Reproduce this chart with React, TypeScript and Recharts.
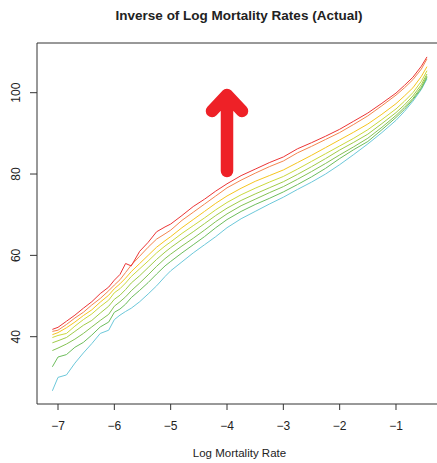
import React from 'react'
import { LineChart, Line, XAxis, YAxis, ReferenceArea } from 'recharts'

// log mortality rate grid (x) and the age (y)
const logRates = [-7.1, -7.0, -6.85, -6.7, -6.55, -6.4, -6.25, -6.1, -6.0, -5.9, -5.8, -5.7, -5.55, -5.4, -5.25, -5.1, -5.0, -4.8, -4.6, -4.4, -4.2, -4.0, -3.75, -3.5, -3.25, -3.0, -2.75, -2.5, -2.25, -2.0, -1.75, -1.5, -1.25, -1.0, -0.85, -0.7, -0.55, -0.45]

const red = [41.8, 42.3, 43.8, 45.3, 47.0, 48.6, 50.6, 52.2, 53.9, 55.3, 58.0, 57.4, 61.0, 63.2, 65.8, 67.0, 67.7, 69.8, 72.0, 73.8, 75.8, 77.6, 79.6, 81.2, 82.8, 84.2, 86.2, 87.7, 89.3, 91.0, 93.0, 95.0, 97.4, 99.9, 101.8, 103.8, 106.5, 108.8]
const orange = [41.3, 41.6, 43.0, 44.6, 46.0, 47.8, 49.4, 51.3, 52.7, 54.0, 55.8, 57.6, 59.8, 62.0, 64.0, 65.3, 66.2, 68.6, 70.6, 72.6, 74.6, 76.6, 78.5, 80.2, 81.8, 83.2, 85.2, 86.8, 88.5, 90.2, 92.2, 94.3, 96.8, 99.4, 101.2, 103.2, 105.8, 108.3]
const gold = [40.5, 41.0, 42.2, 43.6, 45.2, 46.6, 48.5, 50.2, 51.8, 53.0, 54.4, 56.0, 58.0, 60.0, 62.0, 63.6, 64.6, 66.8, 68.8, 70.8, 72.8, 74.6, 76.5, 78.2, 79.6, 81.0, 82.8, 84.6, 86.5, 88.4, 90.3, 92.3, 94.7, 97.3, 99.2, 101.2, 104.0, 106.4]
const lime = [39.8, 40.3, 40.8, 42.6, 44.2, 45.6, 47.4, 49.0, 50.8, 51.8, 53.2, 54.8, 56.7, 58.6, 60.6, 62.3, 63.3, 65.4, 67.3, 69.2, 71.2, 73.0, 74.9, 76.5, 78.0, 79.4, 81.2, 83.1, 85.0, 86.9, 88.8, 90.9, 93.4, 96.0, 97.9, 100.0, 102.8, 105.4]
const green1 = [38.5, 39.0, 39.8, 41.3, 42.8, 44.0, 45.8, 47.5, 49.2, 50.2, 51.6, 53.2, 55.0, 57.0, 59.0, 60.8, 61.9, 63.9, 65.8, 67.8, 69.8, 71.6, 73.5, 75.1, 76.6, 78.1, 79.9, 81.8, 83.8, 85.9, 87.8, 89.8, 92.4, 95.1, 97.0, 99.2, 102.0, 104.6]
const green2 = [36.6, 37.2, 38.2, 39.4, 40.8, 42.4, 44.0, 45.5, 47.5, 48.6, 49.8, 51.3, 53.2, 55.2, 57.3, 59.2, 60.3, 62.3, 64.2, 66.2, 68.3, 70.2, 72.2, 73.8, 75.4, 76.9, 78.7, 80.6, 82.6, 84.7, 86.7, 88.8, 91.5, 94.4, 96.4, 98.6, 101.4, 104.1]
const green3 = [32.6, 35.0, 35.6, 37.4, 38.6, 40.4, 42.4, 43.6, 46.0, 46.8, 48.0, 49.6, 51.4, 53.3, 55.4, 57.4, 58.5, 60.6, 62.6, 64.6, 66.8, 68.8, 70.8, 72.5, 74.0, 75.6, 77.4, 79.3, 81.4, 83.8, 86.0, 88.0, 90.9, 93.9, 95.9, 98.3, 101.0, 103.8]
const cyan = [26.7, 30.0, 30.6, 33.5, 36.0, 38.3, 40.8, 41.6, 44.2, 45.3, 46.2, 47.0, 48.6, 50.5, 52.5, 54.8, 56.2, 58.4, 60.6, 62.6, 64.6, 66.8, 69.0, 70.8, 72.6, 74.3, 76.2, 78.0, 80.0, 82.3, 84.8, 87.4, 90.2, 93.2, 95.4, 97.9, 100.8, 103.4]

const xTicks = [-7, -6, -5, -4, -3, -2, -1]
const yTicks = [40, 60, 80, 100]

const series = [
  { key: 'cyan', color: '#6cc8da', values: cyan },
  { key: 'green3', color: '#6dbd5c', values: green3 },
  { key: 'green2', color: '#84c253', values: green2 },
  { key: 'green1', color: '#a0cc48', values: green1 },
  { key: 'lime', color: '#cbd93c', values: lime },
  { key: 'gold', color: '#f6c51f', values: gold },
  { key: 'orange', color: '#f4854f', values: orange },
  { key: 'red', color: '#ec3535', values: red },
]

const data = logRates.map((x, i) => {
  const row: Record<string, number> = { x }
  series.forEach(s => { row[s.key] = s.values[i] })
  return row
})

// plot box runs past the right edge of the window, like the original
const X_DOMAIN: [number, number] = [-7.373, -0.13]
const Y_DOMAIN: [number, number] = [23.45, 112.22]
const FONT = '"Liberation Sans", Arial, Helvetica, sans-serif'

const YTick = ({ y, payload }: any) => (
  <text x={20.5} y={y} transform={`rotate(-90, 20.5, ${y})`} textAnchor="middle"
    fontSize={12} fill="#222" fontFamily={FONT}>{payload.value}</text>
)

export default function App() {
  return (
    <div style={{ position: 'absolute', left: 0, top: 0, width: 437, height: 463, overflow: 'hidden', background: '#fff' }}>
      <LineChart width={450} height={463} data={data} margin={{ top: 43, right: 5, bottom: 0, left: 0 }}>
        <XAxis type="number" dataKey="x" domain={X_DOMAIN} allowDataOverflow ticks={xTicks}
          height={59} axisLine={false} tickSize={6} tickMargin={11}
          tickLine={{ stroke: '#333' }}
          tick={{ fontSize: 12, fill: '#222', fontFamily: FONT }}
          tickFormatter={(v: number) => String(v).replace('-', '\u2212')} />
        <YAxis type="number" domain={Y_DOMAIN} allowDataOverflow ticks={yTicks}
          width={37} axisLine={false} tickSize={7} tickLine={{ stroke: '#333' }} tick={<YTick />} />
        <ReferenceArea x1={X_DOMAIN[0]} x2={X_DOMAIN[1]} y1={Y_DOMAIN[0]} y2={Y_DOMAIN[1]}
          fill="none" fillOpacity={0} stroke="#333" strokeOpacity={1} ifOverflow="visible" />
        {series.map(s => (
          <Line key={s.key} type="linear" dataKey={s.key} stroke={s.color} strokeWidth={1}
            dot={false} activeDot={false} isAnimationActive={false} />
        ))}
      </LineChart>
      <svg width={437} height={463} style={{ position: 'absolute', left: 0, top: 0, pointerEvents: 'none' }}>
        <text x={239} y={19.5} textAnchor="middle" fontSize={13.5} fontWeight="bold" fill="#222" fontFamily={FONT}>
          Inverse of Log Mortality Rates (Actual)
        </text>
        <text x={239.5} y={457} textAnchor="middle" fontSize={11.5} fill="#222" fontFamily={FONT}>
          Log Mortality Rate
        </text>
        <path d="M 212 111 L 227 95 L 242 111 M 227 95 L 227 171" fill="none" stroke="#ee2127"
          strokeWidth={12.5} strokeLinecap="round" strokeLinejoin="round" />
      </svg>
    </div>
  )
}
